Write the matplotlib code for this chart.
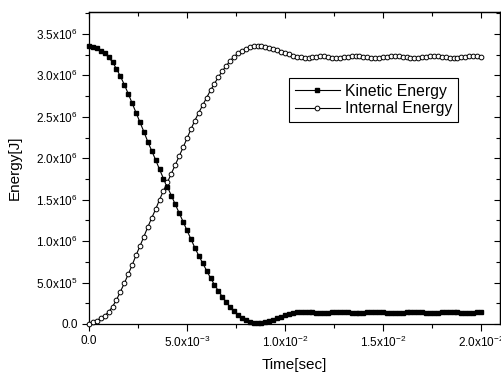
import matplotlib
matplotlib.use("Agg")
import matplotlib.pyplot as plt
from matplotlib.ticker import FixedLocator, FixedFormatter, MultipleLocator

plt.rcParams['font.family'] = ['Liberation Sans', 'DejaVu Sans']
plt.rcParams['mathtext.fontset'] = 'custom'
plt.rcParams['mathtext.rm'] = 'Liberation Sans'
plt.rcParams['mathtext.it'] = 'Liberation Sans:italic'
plt.rcParams['mathtext.bf'] = 'Liberation Sans:bold'

# time in milliseconds (samples every 0.2 ms)
time_ms = [0.0, 0.2, 0.4, 0.6, 0.8, 1.0, 1.2, 1.4, 1.6, 1.8,
           2.0, 2.2, 2.4, 2.6, 2.8, 3.0, 3.2, 3.4, 3.6, 3.8,
           4.0, 4.2, 4.4, 4.6, 4.8, 5.0, 5.2, 5.4, 5.6, 5.8,
           6.0, 6.2, 6.4, 6.6, 6.8, 7.0, 7.2, 7.4, 7.6, 7.8,
           8.0, 8.2, 8.4, 8.6, 8.8, 9.0, 9.2, 9.4, 9.6, 9.8,
           10.0, 10.2, 10.4, 10.6, 10.8, 11.0, 11.2, 11.4, 11.6, 11.8,
           12.0, 12.2, 12.4, 12.6, 12.8, 13.0, 13.2, 13.4, 13.6, 13.8,
           14.0, 14.2, 14.4, 14.6, 14.8, 15.0, 15.2, 15.4, 15.6, 15.8,
           16.0, 16.2, 16.4, 16.6, 16.8, 17.0, 17.2, 17.4, 17.6, 17.8,
           18.0, 18.2, 18.4, 18.6, 18.8, 19.0, 19.2, 19.4, 19.6, 19.8,
           20.0]

# energies in units of 1e6 J
kinetic_e6 = [3.355, 3.345, 3.325, 3.300, 3.265, 3.220, 3.160, 3.080, 2.990, 2.890,
              2.780, 2.665, 2.550, 2.435, 2.320, 2.200, 2.090, 1.980, 1.865, 1.755,
              1.655, 1.550, 1.445, 1.340, 1.235, 1.130, 1.025, 0.920, 0.825, 0.735,
              0.645, 0.555, 0.475, 0.400, 0.330, 0.265, 0.205, 0.155, 0.110, 0.075,
              0.045, 0.025, 0.012, 0.008, 0.012, 0.020, 0.035, 0.050, 0.070, 0.090,
              0.105, 0.120, 0.132, 0.142, 0.148, 0.150, 0.148, 0.143, 0.137, 0.133,
              0.132, 0.135, 0.140, 0.145, 0.148, 0.147, 0.143, 0.137, 0.133, 0.132,
              0.134, 0.139, 0.144, 0.147, 0.147, 0.143, 0.138, 0.134, 0.132, 0.134,
              0.138, 0.143, 0.147, 0.148, 0.145, 0.140, 0.135, 0.132, 0.133, 0.137,
              0.142, 0.146, 0.148, 0.146, 0.141, 0.136, 0.133, 0.133, 0.137, 0.142,
              0.146]

internal_e6 = [0.000, 0.020, 0.040, 0.070, 0.100, 0.145, 0.210, 0.290, 0.390, 0.490,
               0.600, 0.710, 0.830, 0.940, 1.055, 1.170, 1.280, 1.385, 1.500, 1.610,
               1.710, 1.815, 1.920, 2.025, 2.130, 2.240, 2.350, 2.455, 2.550, 2.640,
               2.730, 2.820, 2.900, 2.980, 3.050, 3.115, 3.175, 3.225, 3.265, 3.295,
               3.320, 3.340, 3.352, 3.355, 3.352, 3.345, 3.335, 3.322, 3.305, 3.288,
               3.272, 3.255, 3.240, 3.226, 3.216, 3.210, 3.212, 3.220, 3.228, 3.232,
               3.230, 3.222, 3.214, 3.210, 3.212, 3.218, 3.226, 3.232, 3.235, 3.232,
               3.226, 3.218, 3.211, 3.208, 3.210, 3.216, 3.224, 3.231, 3.234, 3.232,
               3.226, 3.218, 3.211, 3.208, 3.210, 3.216, 3.224, 3.231, 3.234, 3.231,
               3.225, 3.217, 3.211, 3.208, 3.211, 3.218, 3.226, 3.232, 3.233, 3.229,
               3.222]

series_labels = ["Kinetic Energy", "Internal Energy"]
x_label = "Time[sec]"
y_label = "Energy[J]"

x_ticks = [0.0, 0.005, 0.010, 0.015, 0.020]
x_ticklabels = ["0.0", "5.0x10$^{-3}$", "1.0x10$^{-2}$", "1.5x10$^{-2}$", "2.0x10$^{-2}$"]
y_ticks = [0.0, 0.5e6, 1.0e6, 1.5e6, 2.0e6, 2.5e6, 3.0e6, 3.5e6]
y_ticklabels = ["0.0", "5.0x10$^{5}$", "1.0x10$^{6}$", "1.5x10$^{6}$", "2.0x10$^{6}$",
                "2.5x10$^{6}$", "3.0x10$^{6}$", "3.5x10$^{6}$"]

t = [v * 1e-3 for v in time_ms]
ke = [v * 1e6 for v in kinetic_e6]
ie = [v * 1e6 for v in internal_e6]

fig = plt.figure(figsize=(5.02, 3.74), dpi=100)
ax = fig.add_axes([0.1773, 0.1337, 0.8187, 0.8342])

ax.plot(t, ke, color='black', lw=0.8, marker='s', ms=3.2, mfc='black', mec='black',
        label=series_labels[0], clip_on=False, zorder=3)
ax.plot(t, ie, color='black', lw=0.8, marker='o', ms=3.4, mfc='white', mec='black',
        mew=0.7, label=series_labels[1], clip_on=False, zorder=3)

ax.set_xlim(0, 0.02097)
ax.set_ylim(0, 3.765e6)

ax.xaxis.set_major_locator(FixedLocator(x_ticks))
ax.xaxis.set_major_formatter(FixedFormatter(x_ticklabels))
ax.xaxis.set_minor_locator(MultipleLocator(0.0025))
ax.yaxis.set_major_locator(FixedLocator(y_ticks))
ax.yaxis.set_major_formatter(FixedFormatter(y_ticklabels))
ax.yaxis.set_minor_locator(MultipleLocator(0.25e6))

ax.tick_params(which='both', direction='out', top=False, right=False, width=0.8,
               labelsize=8.5, colors='black')
ax.tick_params(which='major', length=5, pad=3)
ax.tick_params(which='minor', length=3)

# top and right ticks pointing inward
secx = ax.secondary_xaxis('top')
secx.xaxis.set_major_locator(FixedLocator(x_ticks))
secx.xaxis.set_minor_locator(MultipleLocator(0.0025))
secx.tick_params(which='both', direction='in', labeltop=False, width=0.8)
secx.tick_params(which='major', length=4)
secx.tick_params(which='minor', length=3)
secy = ax.secondary_yaxis('right')
secy.yaxis.set_major_locator(FixedLocator(y_ticks))
secy.yaxis.set_minor_locator(MultipleLocator(0.25e6))
secy.tick_params(which='both', direction='in', labelright=False, width=0.8)
secy.tick_params(which='major', length=4)
secy.tick_params(which='minor', length=3)

for s in ax.spines.values():
    s.set_linewidth(0.9)
for s in secx.spines.values():
    s.set_linewidth(0.9)
for s in secy.spines.values():
    s.set_linewidth(0.9)

ax.set_xlabel(x_label, fontsize=11)
ax.set_ylabel(y_label, fontsize=11)
ax.xaxis.set_label_coords(0.5, -0.108)
ax.yaxis.set_label_coords(-0.163, 0.5)

leg = ax.legend(loc='upper left', bbox_to_anchor=(0.487, 0.787), fontsize=11.3,
                frameon=True, fancybox=False, edgecolor='black', framealpha=1,
                handlelength=2.9, handletextpad=0.3, borderpad=0.35,
                labelspacing=0.15, borderaxespad=0)
leg.get_frame().set_linewidth(0.8)

fig.savefig("out.png", dpi=100)
